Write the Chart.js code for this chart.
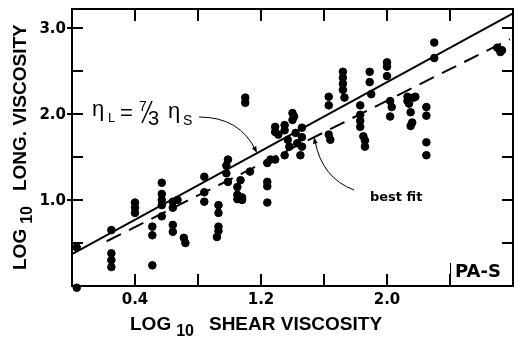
<!DOCTYPE html>
<html>
<head>
<meta charset="utf-8">
<script src="https://cdn.jsdelivr.net/npm/chart.js@4.4.0/dist/chart.umd.min.js"></script>
<style>
    html, body { margin: 0; padding: 0; background: #fff; }
</style>
</head>
<body>
<canvas id="chart" width="524" height="340"></canvas>
<script>
// log10 shear viscosity / log10 longitudinal viscosity
const shearLog = [
    0.03, 0.03, 0.25, 0.25, 0.25, 0.25, 0.40, 0.40, 0.40, 0.51,
    0.51, 0.51, 0.57, 0.57, 0.57, 0.57, 0.57, 0.64, 0.64, 0.64,
    0.64, 0.67, 0.71, 0.72, 0.84, 0.84, 0.84, 0.93, 0.93, 0.93,
    0.93, 0.92, 0.99, 0.98, 0.98, 0.99, 1.05, 1.05, 1.08, 1.05,
    1.08, 1.07, 1.13, 1.10, 1.10, 1.24, 1.26, 1.29, 1.24, 1.24,
    1.24, 1.29, 1.29, 1.31, 1.35, 1.35, 1.37, 1.38, 1.35, 1.40,
    1.41, 1.42, 1.43, 1.46, 1.46, 1.46, 1.45, 1.40, 1.63, 1.63,
    1.63, 1.64, 1.72, 1.72, 1.72, 1.72, 1.73, 1.83, 1.83, 1.83,
    1.83, 1.85, 1.86, 1.86, 1.89, 1.89, 1.90, 2.00, 2.00, 2.00,
    2.02, 2.03, 2.02, 2.13, 2.13, 2.14, 2.17, 2.15, 2.16, 2.15,
    2.18, 2.25, 2.25, 2.25, 2.25, 2.30, 2.30, 2.70, 2.72, 2.73
];
const longLog = [
    -0.02, 0.45, 0.65, 0.38, 0.30, 0.22, 0.97, 0.91, 0.85, 0.24,
    0.69, 0.59, 1.20, 1.07, 1.00, 0.94, 0.81, 0.98, 0.91, 0.71,
    0.63, 1.00, 0.56, 0.50, 1.27, 1.09, 0.98, 0.94, 0.85, 0.69,
    0.64, 0.57, 1.47, 1.40, 1.31, 1.21, 1.15, 1.06, 1.03, 1.01,
    1.00, 1.23, 1.33, 2.19, 2.13, 1.43, 1.47, 1.47, 1.21, 1.16,
    0.97, 1.85, 1.79, 1.76, 1.87, 1.81, 1.70, 1.62, 1.52, 1.93,
    1.97, 1.78, 1.66, 1.84, 1.73, 1.62, 1.52, 2.01, 2.20, 2.10,
    1.76, 1.70, 2.49, 2.42, 2.35, 2.28, 2.19, 2.10, 1.99, 1.92,
    1.85, 1.74, 1.69, 1.62, 2.49, 2.37, 2.23, 2.60, 2.55, 2.44,
    2.15, 2.08, 1.97, 2.20, 2.15, 2.12, 2.19, 2.02, 1.90, 1.86,
    2.20, 2.08, 1.98, 1.67, 1.52, 2.83, 2.65, 2.77, 2.72, 2.74
];

// eta_L = 7/3 eta_S line and best fit line (end points)
const idealX = [0.0, 2.8];
const idealY = [0.37, 3.17];
const fitX = [0.22, 2.78];
const fitY = [0.52, 2.87];

const xTickValues = [0.4, 0.8, 1.2, 1.6, 2.0, 2.4];
const xTickLabels = ['0.4', '', '1.2', '', '2.0', ''];
const yTickValues = [0.5, 1.0, 1.5, 2.0, 2.5, 3.0];
const yTickLabels = ['', '1.0', '', '2.0', '', '3.0'];

const BOLD = '"Liberation Sans", Arial, sans-serif';
const DEJAVU = '"DejaVu Sans", sans-serif';

function toPoints(xs, ys) {
    return xs.map((x, i) => ({x: x, y: ys[i]}));
}

function arrowHead(ctx, fromX, fromY, toX, toY, size) {
    const a = Math.atan2(toY - fromY, toX - fromX);
    ctx.beginPath();
    ctx.moveTo(toX, toY);
    ctx.lineTo(toX - size * Math.cos(a - 0.35), toY - size * Math.sin(a - 0.35));
    ctx.lineTo(toX - size * Math.cos(a + 0.35), toY - size * Math.sin(a + 0.35));
    ctx.closePath();
    ctx.fill();
}

// frame, inward ticks, tick labels, axis titles and the notes
const framePlugin = {
    id: 'frame',
    afterDraw(chart) {
        const {ctx, chartArea: area, scales} = chart;
        const xs = scales.x, ys = scales.y;
        ctx.save();
        ctx.strokeStyle = '#000';
        ctx.fillStyle = '#000';
        ctx.lineWidth = 2;
        ctx.strokeRect(area.left, area.top, area.right - area.left, area.bottom - area.top);

        ctx.beginPath();
        xTickValues.forEach((v) => {
            const px = Math.round(xs.getPixelForValue(v));
            ctx.moveTo(px, area.bottom);
            ctx.lineTo(px, area.bottom - 12);
            ctx.moveTo(px, area.top);
            ctx.lineTo(px, area.top + 12);
        });
        yTickValues.forEach((v, i) => {
            const py = Math.round(ys.getPixelForValue(v));
            ctx.moveTo(area.left - (yTickLabels[i] ? 5 : 0), py);
            ctx.lineTo(area.left + 11, py);
            ctx.moveTo(area.right, py);
            ctx.lineTo(area.right - 11, py);
        });
        ctx.stroke();

        ctx.font = 'bold 15px ' + DEJAVU;
        ctx.textBaseline = 'alphabetic';
        ctx.textAlign = 'center';
        xTickValues.forEach((v, i) => {
            if (xTickLabels[i]) {
                ctx.fillText(xTickLabels[i], xs.getPixelForValue(v), area.bottom + 18);
            }
        });
        ctx.textAlign = 'right';
        yTickValues.forEach((v, i) => {
            if (yTickLabels[i]) {
                ctx.fillText(yTickLabels[i], area.left - 6, ys.getPixelForValue(v) + 5.5);
            }
        });

        // axis titles with subscript 10
        ctx.textAlign = 'left';
        const drawTitle = (head, tail) => {
            ctx.font = 'bold 19px ' + BOLD;
            ctx.fillText(head, 0, 0);
            let w = ctx.measureText(head).width + 5;
            ctx.font = 'bold 16px ' + BOLD;
            ctx.fillText('10', w, 6);
            w += ctx.measureText('10').width + 15;
            ctx.font = 'bold 19px ' + BOLD;
            ctx.fillText(tail, w, 0);
        };
        ctx.save();
        ctx.translate(130, 330);
        drawTitle('LOG', 'SHEAR VISCOSITY');
        ctx.restore();
        ctx.save();
        ctx.translate(26, 270);
        ctx.rotate(-Math.PI / 2);
        drawTitle('LOG', 'LONG. VISCOSITY');
        ctx.restore();

        // eta_L = 7/3 eta_S
        ctx.font = '22px ' + BOLD;
        ctx.fillText('η', 92, 116);
        ctx.font = '13px ' + BOLD;
        ctx.fillText('L', 108, 122);
        ctx.font = '22px ' + BOLD;
        ctx.fillText('=', 120, 120);
        ctx.font = '14px ' + BOLD;
        ctx.fillText('7', 139, 111);
        ctx.font = '20px ' + BOLD;
        ctx.fillText('3', 148, 125);
        ctx.lineWidth = 1.5;
        ctx.beginPath();
        ctx.moveTo(142, 123);
        ctx.lineTo(152, 101);
        ctx.stroke();
        ctx.font = '22px ' + BOLD;
        ctx.fillText('η', 168, 118);
        ctx.font = '14px ' + BOLD;
        ctx.fillText('S', 183, 125);

        ctx.lineWidth = 1;
        ctx.beginPath();
        ctx.moveTo(199, 117);
        ctx.quadraticCurveTo(240, 117, 256, 151);
        ctx.stroke();
        arrowHead(ctx, 247, 133, 257, 153, 7);

        // best fit note
        ctx.font = 'bold 13px ' + DEJAVU;
        ctx.fillText('best fit', 370, 201);
        ctx.beginPath();
        ctx.moveTo(354, 190);
        ctx.quadraticCurveTo(322, 178, 315, 141);
        ctx.stroke();
        arrowHead(ctx, 318, 156, 314, 137, 7);

        ctx.font = 'bold 18px ' + DEJAVU;
        ctx.fillText('PA-S', 455, 277);
        ctx.beginPath();
        ctx.moveTo(450.5, 263);
        ctx.lineTo(450.5, 276);
        ctx.stroke();
        ctx.restore();
    }
};

new Chart(document.getElementById('chart'), {
    type: 'scatter',
    data: {
        datasets: [{
            label: 'data',
            data: toPoints(shearLog, longLog),
            backgroundColor: '#000',
            borderColor: '#000',
            pointRadius: 3.8,
            pointHoverRadius: 3.8,
            clip: false
        }, {
            label: 'eta_L = 7/3 eta_S',
            type: 'line',
            data: toPoints(idealX, idealY),
            borderColor: '#000',
            borderWidth: 2,
            pointRadius: 0,
            fill: false
        }, {
            label: 'best fit',
            type: 'line',
            data: toPoints(fitX, fitY),
            borderColor: '#000',
            borderWidth: 2,
            borderDash: [16, 9],
            pointRadius: 0,
            fill: false
        }]
    },
    options: {
        responsive: false,
        animation: false,
        devicePixelRatio: 1,
        layout: {
            padding: {left: 72, right: 11, top: 9, bottom: 54}
        },
        plugins: {
            legend: {display: false},
            tooltip: {enabled: false}
        },
        scales: {
            x: {type: 'linear', min: 0, max: 2.8, display: false},
            y: {type: 'linear', min: 0, max: 3.22, display: false}
        }
    },
    plugins: [framePlugin]
});
</script>
</body>
</html>
